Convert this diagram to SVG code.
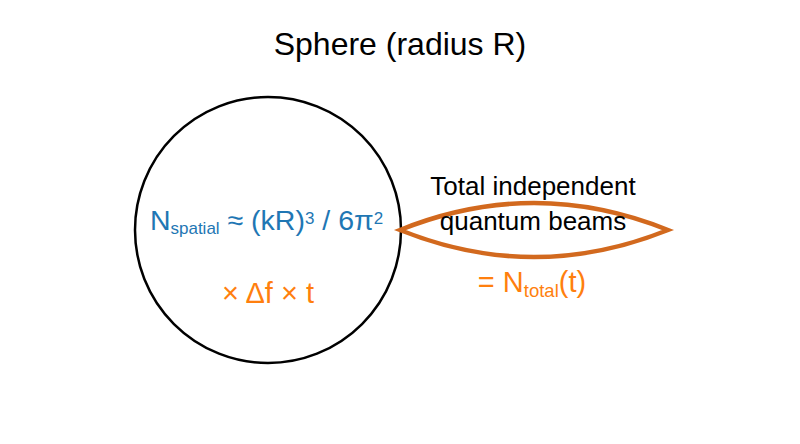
<svg xmlns="http://www.w3.org/2000/svg" width="800" height="444" viewBox="0 0 800 444">
<style>
text{font-family:"Liberation Sans",Arial,sans-serif;text-anchor:middle}
.blue{fill:#1f77b4}
.orange{fill:#ff7f0e}
</style>
<rect width="800" height="444" fill="#fff"/>
<text x="400" y="55" font-size="32">Sphere (radius R)</text>
<g id="sphere">
<circle cx="268" cy="230" r="133" fill="none" stroke="#000" stroke-width="2.5"/>
<text class="blue" x="266.5" y="230" font-size="28.5">N<tspan font-size="17" dy="4">spatial</tspan><tspan dy="-4"> ≈ (kR)</tspan><tspan font-size="17" dy="-6">3</tspan><tspan dy="6"> / 6π</tspan><tspan font-size="17" dy="-6">2</tspan></text>
<text class="orange" x="268" y="303" font-size="29">× Δf × t</text>
</g>
<g id="connectors">
<path d="M400,230 Q534,176 668,230 Q534,284 400,230 Z" fill="none" stroke="#d2691e" stroke-width="4.5" stroke-linejoin="miter"/>
</g>
<g id="beams">
<text x="533" y="195" font-size="26">Total independent</text>
<text x="533" y="230" font-size="26">quantum beams</text>
<text class="orange" x="532" y="292" font-size="29">= N<tspan font-size="18.5" dy="5">total</tspan><tspan dy="-5">(t)</tspan></text>
</g>
</svg>
